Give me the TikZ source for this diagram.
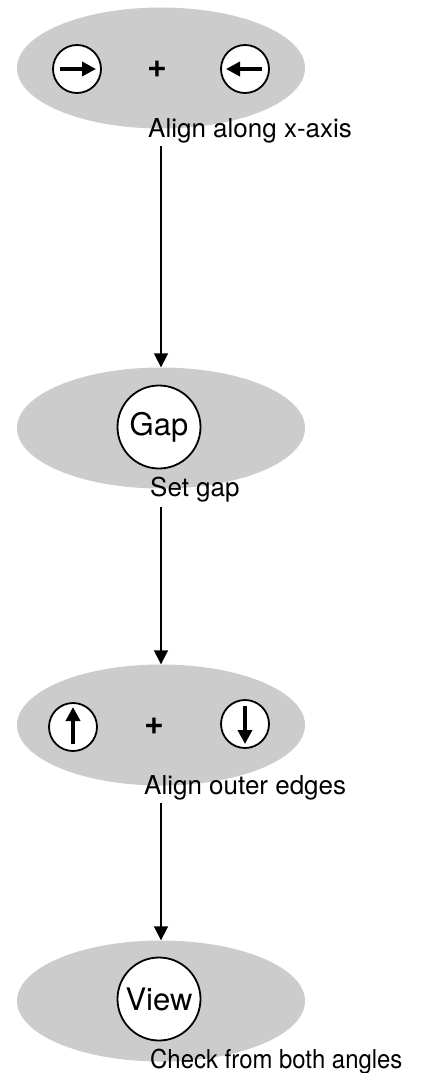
\documentclass[tikz,border=0pt]{standalone}
\usepackage{fontspec}
\setmainfont{TeX Gyre Heros}
\usetikzlibrary{shapes.geometric,arrows.meta}
\begin{document}
\begin{tikzpicture}[x=1pt,y=-1pt,
  blob/.style={ellipse,fill=black!20,draw=none,minimum width=288pt,minimum height=121pt,inner sep=0pt},
  dial/.style={circle,fill=white,draw=black,line width=1.8pt,minimum size=48pt,inner sep=0pt},
  bigdial/.style={circle,fill=white,draw=black,line width=1.8pt,minimum size=83pt,inner sep=0pt,font=\fontsize{31}{34}\selectfont},
  caption/.style={anchor=base west,inner sep=0pt,font=\fontsize{26}{30}\selectfont},
  plus/.style={inner sep=0pt,font=\fontsize{34}{38}\selectfont\bfseries},
  flow/.style={line width=1.8pt,-{Triangle[length=14pt,width=14pt]}},
  pointer/.style={line width=4.5pt,-{Triangle[length=14pt,width=14pt]},shorten >=-1pt}]
\useasboundingbox (0,0) rectangle (425,1073);

% Step 1
\node[blob] (e1) at (161,68) {};
\node[dial] (d1a) at (77,69) {};
\node[dial] (d1b) at (245,69) {};
\node[plus] (p1) at (157,69) {+};
\draw[pointer] ([xshift=-17pt]d1a.center) -- ([xshift=18pt]d1a.center);
\draw[pointer] ([xshift=17pt]d1b.center) -- ([xshift=-18pt]d1b.center);
\node[caption] (l1) at (148,137) {Align along x-axis};

% Step 2
\node[blob] (e2) at (161,428) {};
\node[bigdial] (g) at (159,427) {Gap};
\node[caption] (l2) at (150,496) {Set gap};

% Step 3
\node[blob] (e3) at (161,725) {};
\node[dial] (d3a) at (73,727) {};
\node[dial] (d3b) at (245,724) {};
\node[plus] (p3) at (154,726) {+};
\draw[pointer] ([yshift=-17pt]d3a.center) -- ([yshift=19pt]d3a.center);
\draw[pointer] ([yshift=18pt]d3b.center) -- ([yshift=-19pt]d3b.center);
\node[caption] (l3) at (144,794) {Align outer edges};

% Step 4
\node[blob] (e4) at (161,1001) {};
\node[bigdial] (v) at (159,999) {View};
\node[caption,xscale=0.92,transform shape] (l4) at (150,1068) {Check from both angles};

% Connectors
\draw[flow] ([yshift=-3pt]e1.center |- l1.south) -- (e2.north);
\draw[flow] ([yshift=-5pt]e2.center |- l2.south) -- (e3.north);
\draw[flow] ([yshift=-3pt]e3.center |- l3.south) -- (e4.north);
\end{tikzpicture}
\end{document}
